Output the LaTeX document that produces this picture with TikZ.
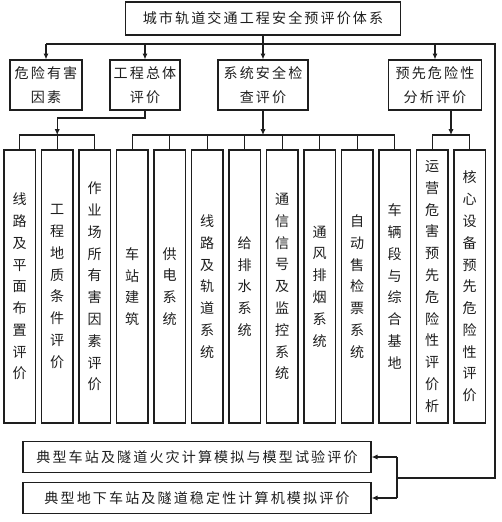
\documentclass[tikz,border=0pt]{standalone}
\usepackage{fontspec}
\usepackage{xcolor}
\usepackage{tikz}
\usetikzlibrary{arrows.meta,positioning,calc}
\newfontfamily\cjk{Noto Sans CJK SC}
\newfontfamily\cjkw[LetterSpace=15]{Noto Sans CJK SC}
\definecolor{ink}{HTML}{1e1e1e}

\begin{document}
\begin{tikzpicture}[x=0.03cm, y=-0.03cm,
    box/.style={rectangle, draw=ink, text=ink, line width=1.1pt,
                align=center, inner sep=0pt,
                font=\cjkw\fontsize{12}{20.4}\selectfont},
    leaf/.style={box, minimum width=0.945cm, minimum height=8.19cm,
                 font=\cjk\fontsize{12}{18.6}\selectfont},
    wide/.style={box, minimum width=10.44cm, minimum height=0.93cm},
    arrow/.style={-{Latex[length=5pt,width=4.5pt]}, line width=1.1pt, draw=ink},
    link/.style={line width=1.1pt, draw=ink},
]
\useasboundingbox (0,0) rectangle (502,522);

\node[box, minimum width=8.25cm, minimum height=0.99cm] (root) at (263,18.5) {城市轨道交通工程安全预评价体系};

\node[box, minimum width=2.16cm, minimum height=1.5cm] (hazard) at (46,85) {危险有害\\因素};
\node[box, minimum width=2.1cm, minimum height=1.5cm] (overall) at (145,85) {工程总体\\评价};
\node[box, minimum width=2.7cm, minimum height=1.5cm] (syscheck) at (263,85) {系统安全检\\查评价};
\node[box, minimum width=2.79cm, minimum height=1.5cm] (pha) at (435,85) {预先危险性\\分析评价};

% third level
\node[leaf] (route) at (19.75,286.5) {线\\路\\及\\平\\面\\布\\置\\评\\价};
\node[leaf] (geology) at (57.25,286.5) {工\\程\\地\\质\\条\\件\\评\\价};
\node[leaf] (worksite) at (94.75,286.5) {作\\业\\场\\所\\有\\害\\因\\素\\评\\价};
\node[leaf] (station) at (132.25,286.5) {车\\站\\建\\筑};
\node[leaf] (power) at (169.75,286.5) {供\\电\\系\\统};
\node[leaf] (track) at (207.25,286.5) {线\\路\\及\\轨\\道\\系\\统};
\node[leaf] (water) at (244.75,286.5) {给\\排\\水\\系\\统};
\node[leaf] (signal) at (282.25,286.5) {通\\信\\信\\号\\及\\监\\控\\系\\统};
\node[leaf] (smoke) at (319.75,286.5) {通\\风\\排\\烟\\系\\统};
\node[leaf] (afc) at (357.25,286.5) {自\\动\\售\\检\\票\\系\\统};
\node[leaf] (depot) at (394.75,286.5) {车\\辆\\段\\与\\综\\合\\基\\地};
\node[leaf] (operhaz) at (432.25,286.5) {运\\营\\危\\害\\预\\先\\危\\险\\性\\评\\价\\析};
\node[leaf] (coreeq) at (469.75,286.5) {核\\心\\设\\备\\预\\先\\危\\险\\性\\评\\价};

\node[wide] (fire) at (197,457) {典型车站及隧道火灾计算模拟与模型试验评价};
\node[wide] (stable) at (197,498) {典型地下车站及隧道稳定性计算机模拟评价};

% top bus
\coordinate (bus) at (263,44);
\coordinate (corner) at (495,478);
\coordinate (fork) at (397,478);
\draw[link] (root) -- (bus);
\draw[link] (hazard.north |- bus) -| (corner) -- (fork);
\draw[arrow] (bus -| hazard) -- (hazard);
\draw[arrow] (bus -| overall) -- (overall);
\draw[arrow] (bus -| syscheck) -- (syscheck);
\draw[arrow] (bus -| pha) -- (pha);

% bottom boxes
\draw[link] (fork |- fire) -- (fork |- stable);
\draw[arrow] (fork |- fire) -- (fire);
\draw[arrow] (fork |- stable) -- (stable);

% left group
\coordinate (busL) at (57.25,135);
\coordinate (kneeL) at (57.25,118);
\draw[arrow] (overall.south) |- (kneeL) -- (busL);
\draw[link] (route.north) |- (busL) -| (worksite.north);
\draw[link] (geology.north) -- (busL);

% middle group
\coordinate (busM) at (263,135);
\draw[arrow] (syscheck) -- (busM);
\draw[link] (station.north) |- (busM) -| (depot.north);
\draw[link] (power.north) -- (power.north |- busM)
            (track.north) -- (track.north |- busM)
            (water.north) -- (water.north |- busM)
            (signal.north) -- (signal.north |- busM)
            (smoke.north) -- (smoke.north |- busM)
            (afc.north) -- (afc.north |- busM);

% right group
\coordinate (busR) at (451,135);
\draw[arrow] (pha.south -| busR) -- (busR);
\draw[link] (operhaz.north) |- (busR) -| (coreeq.north);
\end{tikzpicture}
\end{document}
